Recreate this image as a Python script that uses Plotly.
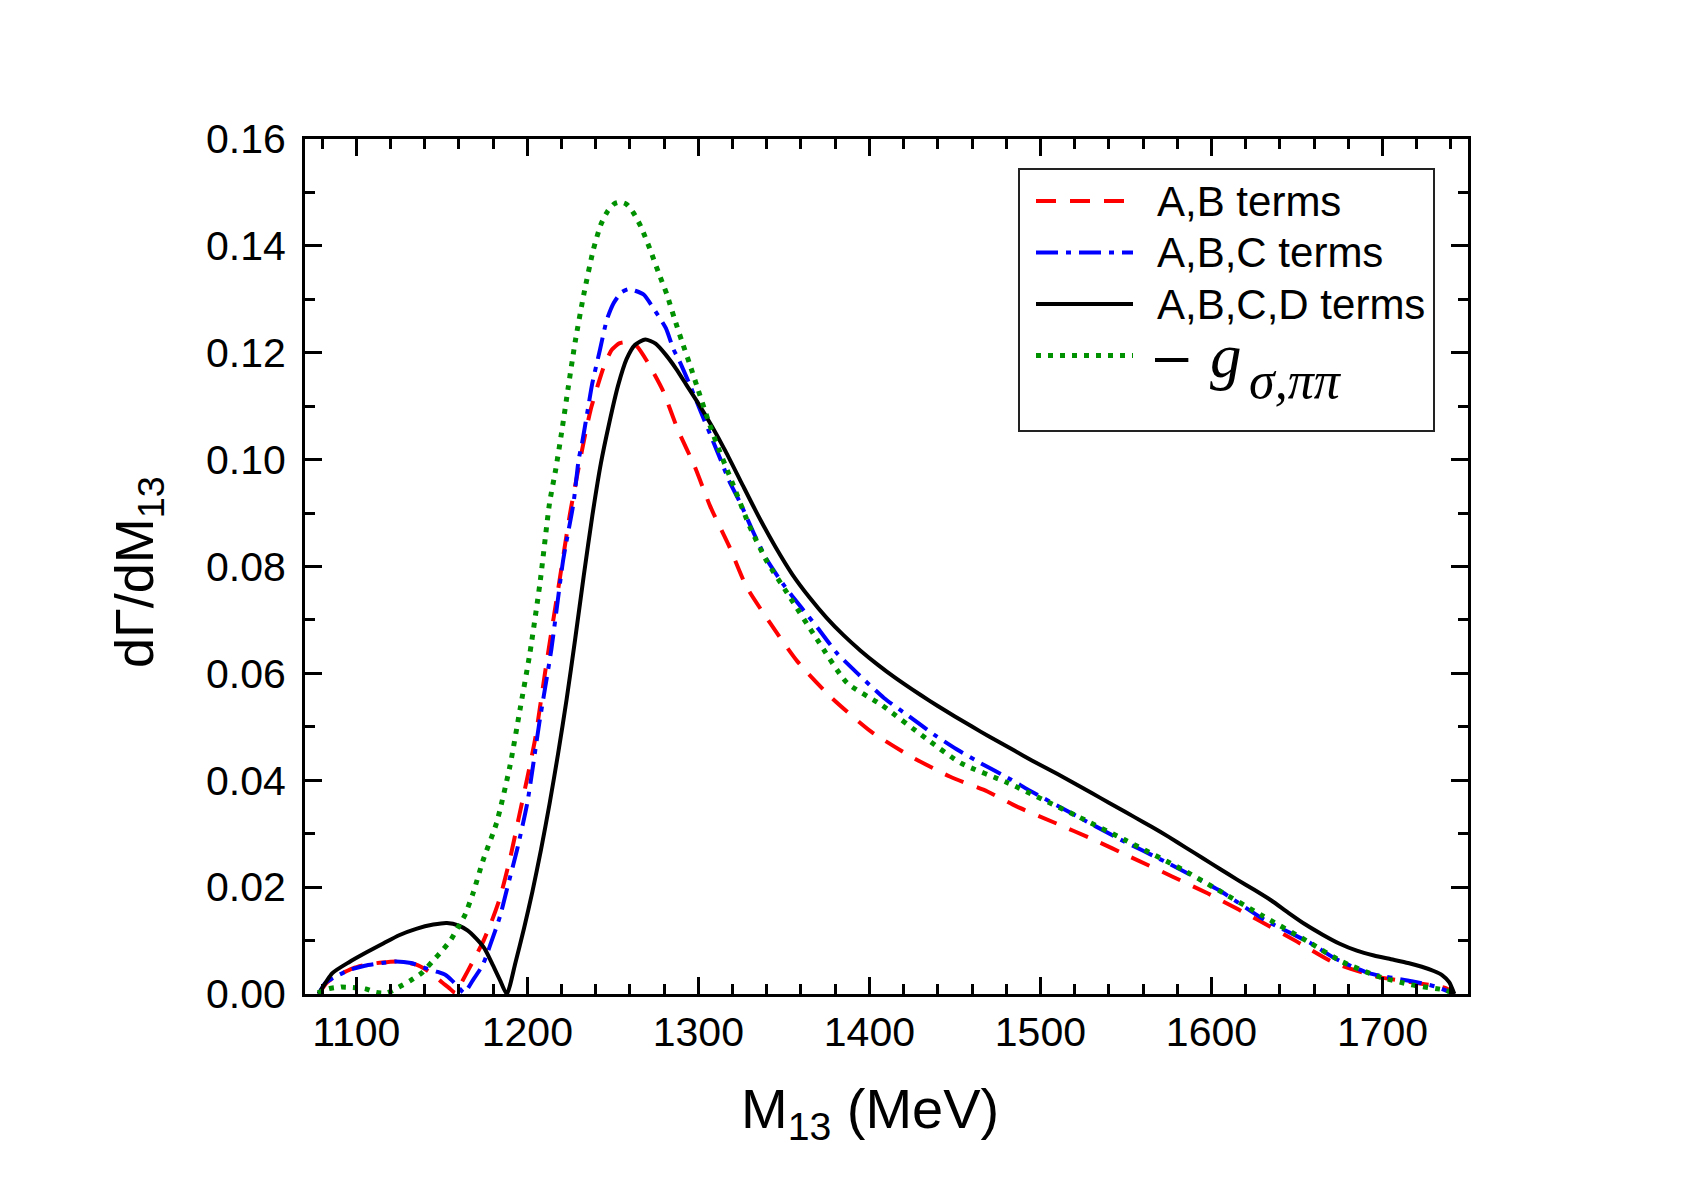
import plotly.graph_objects as go

# ---------------- data ----------------
ab_x = [1078, 1083, 1090, 1098, 1106, 1115, 1125, 1135, 1141, 1145, 1150, 1154, 1158, 1162.5, 1168, 1174,
        1179, 1184, 1190, 1195, 1200, 1204.5, 1211, 1218, 1225, 1230, 1234, 1237, 1241, 1245.5, 1249.5,
        1254, 1259, 1264, 1270, 1279, 1288, 1298, 1307, 1318, 1328, 1342, 1358, 1378, 1401, 1424, 1447,
        1469, 1486, 1508, 1531, 1553, 1577, 1598, 1604, 1627, 1650, 1672, 1696, 1717, 1737, 1742]
ab_y = [0, 0.0022, 0.0036, 0.0048, 0.0055, 0.0059, 0.0061, 0.0055, 0.0045, 0.0036, 0.0022, 0.0012, 0.0002,
        0.0027, 0.0060, 0.0097, 0.0135, 0.0180, 0.0255, 0.0330, 0.0405, 0.0476, 0.0615, 0.0757, 0.0900,
        0.0985, 0.1050, 0.1093, 0.1137, 0.1181, 0.1206, 0.1218, 0.1220, 0.1212, 0.1184, 0.1131, 0.1056,
        0.0986, 0.0912, 0.0838, 0.0763, 0.0694, 0.0622, 0.0554, 0.0491, 0.0445, 0.0407, 0.0379, 0.0351,
        0.0321, 0.0289, 0.0256, 0.0220, 0.0188, 0.0178, 0.0139, 0.0098, 0.0058, 0.0033, 0.0022, 0.0011, 0]

abc_x = [1078, 1082, 1090, 1096, 1105, 1115, 1123, 1132, 1141, 1147, 1152, 1156, 1160, 1163, 1168, 1174,
         1178, 1184, 1188, 1194, 1200, 1207, 1214, 1221, 1227, 1230, 1232, 1235, 1238, 1242.5, 1246.5,
         1250.5, 1255, 1259, 1263, 1268, 1275, 1281, 1285.5, 1289, 1295, 1301, 1309, 1313, 1318, 1324.5,
         1332, 1340, 1350, 1360, 1370, 1381, 1394, 1408.5, 1423, 1438, 1451, 1465, 1483, 1493, 1516, 1545,
         1574.5, 1604, 1631, 1658, 1672, 1692, 1717, 1731, 1742]
abc_y = [0, 0.0021, 0.0036, 0.0045, 0.0053, 0.0058, 0.0061, 0.0058, 0.0048, 0.0042, 0.0036, 0.0025, 0.0012,
         0.0002, 0.0025, 0.0055, 0.0089, 0.0145, 0.0195, 0.0270, 0.0358, 0.0507, 0.0644, 0.0813, 0.0919,
         0.1000, 0.1031, 0.1087, 0.1143, 0.1206, 0.1262, 0.1293, 0.1313, 0.1319, 0.1316, 0.1309, 0.1277,
         0.1246, 0.1206, 0.1184, 0.1140, 0.1093, 0.1031, 0.1000, 0.0960, 0.0919, 0.0865, 0.0813, 0.0765,
         0.0724, 0.0684, 0.0638, 0.0597, 0.0554, 0.0520, 0.0485, 0.0458, 0.0432, 0.0401, 0.0382, 0.0342,
         0.0292, 0.0245, 0.0195, 0.0139, 0.0095, 0.0067, 0.0039, 0.0024, 0.0014, 0]

abcd_x = [1078, 1086, 1096, 1106, 1116, 1125, 1135, 1145, 1153, 1160, 1165, 1170, 1175, 1180, 1184, 1188,
          1193, 1198, 1203, 1208, 1213, 1218, 1223, 1228, 1233, 1238, 1243, 1248, 1253, 1258, 1263, 1269,
          1275, 1281, 1287, 1293, 1300, 1308, 1316, 1325, 1335, 1345, 1355, 1365, 1375, 1385, 1395, 1405,
          1415, 1425, 1435, 1445, 1455, 1465, 1475, 1485, 1495, 1505, 1515, 1525, 1535, 1545, 1555, 1565,
          1575, 1585, 1595, 1605, 1615, 1625, 1635, 1645, 1655, 1665, 1675, 1685, 1695, 1705, 1715, 1723,
          1730, 1735, 1739, 1742]
abcd_y = [0, 0.0039, 0.0060, 0.0078, 0.0095, 0.0110, 0.0122, 0.0130, 0.0133, 0.0128, 0.0119, 0.0104, 0.0085,
          0.0053, 0.0026, 0.0, 0.0058, 0.0122, 0.0192, 0.0270, 0.0356, 0.0450, 0.0552, 0.0665, 0.0783,
          0.0895, 0.0993, 0.1070, 0.1138, 0.1188, 0.1215, 0.1225, 0.1217, 0.1196, 0.1170, 0.1140, 0.1105,
          0.1062, 0.1015, 0.0958, 0.0895, 0.0837, 0.0785, 0.0742, 0.0704, 0.0671, 0.0642, 0.0616, 0.0592,
          0.0570, 0.0549, 0.0529, 0.0510, 0.0491, 0.0473, 0.0455, 0.0437, 0.0420, 0.0403, 0.0385, 0.0367,
          0.0349, 0.0331, 0.0313, 0.0294, 0.0274, 0.0254, 0.0234, 0.0214, 0.0195, 0.0175, 0.0152, 0.0130,
          0.0111, 0.0094, 0.0081, 0.0072, 0.0065, 0.0058, 0.0051, 0.0043, 0.0035, 0.0022, 0]

g_x = [1077.5, 1084, 1091, 1098, 1105, 1111.7, 1118, 1125, 1131.6, 1138.5, 1144.5, 1150.4, 1155.4, 1159.5,
       1163.4, 1168.3, 1174.2, 1182, 1189.8, 1195.7, 1201.5, 1207.4, 1213, 1216.5, 1220, 1224, 1228, 1233,
       1238.6, 1243, 1247, 1251, 1254.5, 1258, 1262, 1266.4, 1271.8, 1276.7, 1281.6, 1285.9, 1290.4, 1294.8,
       1299.2, 1306, 1310.9, 1318.7, 1330, 1340, 1352, 1369.5, 1387, 1406.6, 1434, 1453.5, 1481, 1522, 1549,
       1583, 1602, 1629, 1656.5, 1676, 1697.5, 1717, 1737, 1742]
g_y = [0.0002, 0.0010, 0.0013, 0.0012, 0.0010, 0.0003, 0.0002, 0.0013, 0.0025, 0.0040, 0.0061, 0.0082,
       0.0102, 0.0125, 0.0147, 0.0189, 0.0251, 0.0320, 0.0426, 0.0532, 0.0638, 0.0769, 0.0919, 0.0980,
       0.1050, 0.1137, 0.1221, 0.1309, 0.1393, 0.1440, 0.1465, 0.1479, 0.1482, 0.1478, 0.1462, 0.1436,
       0.1393, 0.1350, 0.1309, 0.1265, 0.1221, 0.1180, 0.1137, 0.1071, 0.1028, 0.0966, 0.0875, 0.0810,
       0.0750, 0.0663, 0.0582, 0.0542, 0.0476, 0.0432, 0.0395, 0.0332, 0.0289, 0.0233, 0.0198, 0.0148,
       0.0098, 0.0061, 0.0033, 0.0017, 0.0007, 0]

x_ticks = [1100, 1200, 1300, 1400, 1500, 1600, 1700]
y_ticks = [0.00, 0.02, 0.04, 0.06, 0.08, 0.10, 0.12, 0.14, 0.16]

RED = "#FF0000"
BLUE = "#0000FF"
BLACK = "#000000"
GREEN = "#009100"

series = [
    ("A,B terms", ab_x, ab_y, RED, 4, "20px,14px"),
    ("A,B,C terms", abc_x, abc_y, BLUE, 4, "22px,8px,5px,8px"),
    ("A,B,C,D terms", abcd_x, abcd_y, BLACK, 4, "solid"),
    ("-g_sigma,pipi", g_x, g_y, GREEN, 5, "5px,7px"),
]

fig = go.Figure()
for name, xs, ys, col, w, dash in series:
    fig.add_trace(go.Scatter(x=xs, y=ys, mode="lines", name=name,
                             line=dict(color=col, width=w, dash=dash, shape="spline", smoothing=0.6),
                             showlegend=False))

FONT = "Arial, Liberation Sans, sans-serif"
SERIF = "Times New Roman, Liberation Serif, serif"

axis_common = dict(
    showline=True, linecolor="black", linewidth=3, mirror="ticks",
    ticks="inside", ticklen=17, tickwidth=3, tickcolor="black",
    showgrid=False, zeroline=False,
    tickfont=dict(family=FONT, size=41, color="black"),
)

fig.update_xaxes(range=[1070, 1750], tickvals=x_ticks, ticklabelstandoff=0,
                 minor=dict(dtick=20, tick0=1000, ticks="inside", ticklen=10, tickwidth=3, tickcolor="black"),
                 **axis_common)
fig.update_yaxes(range=[0, 0.16], tickvals=y_ticks, tickformat=".2f", ticklabelstandoff=8,
                 minor=dict(dtick=0.01, tick0=0, ticks="inside", ticklen=10, tickwidth=3, tickcolor="black"),
                 **axis_common)

W, H = 1705, 1192
L, R, T, B = 305, 237, 139, 198
pw, ph = W - L - R, H - T - B


def px(x):
    return (x - L) / pw


def py(y):
    return (H - B - y) / ph


annotations = []
shapes = []

# axis titles
annotations.append(dict(text="M<sub>13</sub> (MeV)", x=px(870), y=py(1112), xref="paper", yref="paper",
                        xanchor="center", yanchor="middle", showarrow=False,
                        font=dict(family=FONT, size=56, color="black")))
annotations.append(dict(text="dΓ/dM<sub>13</sub>", x=px(138), y=py(572), xref="paper", yref="paper",
                        xanchor="center", yanchor="middle", showarrow=False, textangle=-90,
                        font=dict(family=FONT, size=54, color="black")))

# legend box
shapes.append(dict(type="rect", xref="paper", yref="paper", x0=px(1019), x1=px(1434), y0=py(431), y1=py(169),
                   line=dict(color="#222222", width=2), fillcolor="rgba(255,255,255,0)"))

rows_y = [201, 252.5, 304, 355.5]
for (name, xs, ys, col, w, dash), ry in zip(series, rows_y):
    shapes.append(dict(type="line", xref="paper", yref="paper", x0=px(1036), x1=px(1133), y0=py(ry), y1=py(ry),
                       line=dict(color=col, width=w, dash=dash)))

for txt, ry in zip(["A,B terms", "A,B,C terms", "A,B,C,D terms"], rows_y[:3]):
    annotations.append(dict(text=txt, x=px(1155), y=py(ry), xref="paper", yref="paper",
                            xanchor="left", yanchor="middle", showarrow=False,
                            font=dict(family=FONT, size=42, color="black")))

annotations.append(dict(text="–", x=px(1154), y=py(354), xref="paper", yref="paper",
                        xanchor="left", yanchor="middle", showarrow=False, borderpad=0,
                        font=dict(family=FONT, size=60, color="black")))
annotations.append(dict(text="<i>g</i>", x=px(1209), y=py(356), xref="paper", yref="paper",
                        xanchor="left", yanchor="middle", showarrow=False, borderpad=0,
                        font=dict(family=SERIF, size=63, color="black")))
annotations.append(dict(text="<i>σ,ππ</i>", x=px(1248), y=py(380), xref="paper", yref="paper",
                        xanchor="left", yanchor="middle", showarrow=False, borderpad=0,
                        font=dict(family=SERIF, size=52, color="black")))

fig.update_layout(
    width=W, height=H,
    margin=dict(l=L, r=R, t=T, b=B, pad=0),
    paper_bgcolor="white", plot_bgcolor="white",
    annotations=annotations, shapes=shapes,
    showlegend=False,
)

fig.write_html("out.html")
